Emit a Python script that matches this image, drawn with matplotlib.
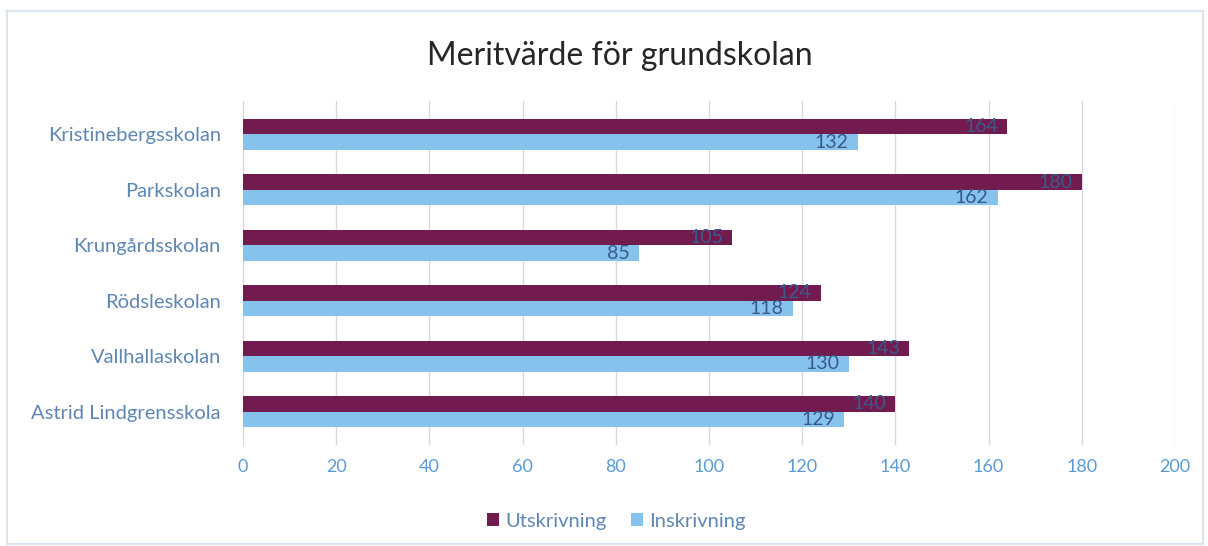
import numpy as np
import matplotlib.pyplot as plt
from matplotlib.patches import Rectangle

skolor = ["Kristinebergsskolan", "Parkskolan", "Krungårdsskolan",
          "Rödsleskolan", "Vallhallaskolan", "Astrid Lindgrensskola"]
utskrivning = [164, 180, 105, 124, 143, 140]
inskrivning = [132, 162, 85, 118, 130, 129]
xticks = [0, 20, 40, 60, 80, 100, 120, 140, 160, 180, 200]

plt.rcParams["font.family"] = ["Lato", "DejaVu Sans"]

fig = plt.figure(figsize=(12.08, 5.46), dpi=100)
ax = fig.add_axes([0.2012, 0.185, 0.7715, 0.63])

y = np.arange(len(skolor))
h = 0.28
lila = "#721b4e"
bla = "#85c3ec"
b1 = ax.barh(y - h / 2, utskrivning, height=h, color=lila, label="Utskrivning", zorder=3)
b2 = ax.barh(y + h / 2, inskrivning, height=h, color=bla, label="Inskrivning", zorder=3)

# etiketter innanför stapelns slut
for bars, vals in [(b1, utskrivning), (b2, inskrivning)]:
    for rect, v in zip(bars, vals):
        ax.text(rect.get_width() - 2, rect.get_y() + rect.get_height() / 2, str(v),
                ha="right", va="center", fontsize=14, color="#3a5a8c", zorder=4)

ax.set_ylim(len(skolor) - 0.4, -0.6)
ax.set_xlim(0, 200)
ax.set_xticks(xticks)
ax.set_yticks(y)
ax.set_yticklabels(skolor, fontsize=14.5, color="#5f86b3")
ax.tick_params(axis="x", labelsize=13, labelcolor="#5b9bd5", length=0, pad=10)
ax.tick_params(axis="y", length=0, pad=16)
ax.grid(axis="x", color="#d9d9d9", linewidth=1, zorder=0)
for s in ["top", "right", "bottom"]:
    ax.spines[s].set_visible(False)
ax.spines["left"].set_color("#d9d9d9")

fig.text(0.513, 0.898, "Meritvärde för grundskolan", ha="center", va="center",
         fontsize=23, color="#262626")

fig.legend(loc="center", bbox_to_anchor=(0.51, 0.045), ncol=2, frameon=False,
           fontsize=14.5, labelcolor="#5f86b3", handlelength=0.6, handleheight=0.6,
           handletextpad=0.3, columnspacing=1.2)

fig.patches.append(Rectangle((0.006, 0.004), 0.99, 0.975, transform=fig.transFigure,
                             fill=False, edgecolor="#dbe5f1", linewidth=1.5))

fig.savefig("out.png", dpi=100)
